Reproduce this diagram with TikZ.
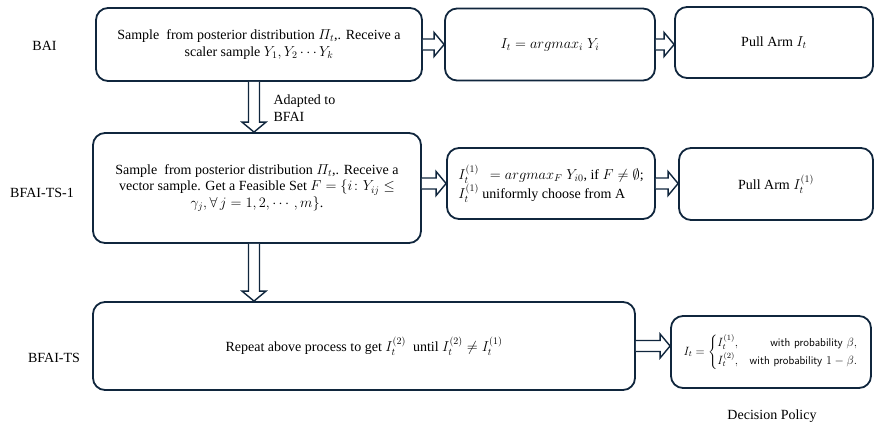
\documentclass[tikz,border=0pt]{standalone}
\usepackage{amsmath,amssymb}
\usepackage{fontspec}
\setmainfont{Liberation Serif}
\usepackage{tikz}
\usetikzlibrary{calc}
\definecolor{navy}{HTML}{10263D}

\begin{document}
\begin{tikzpicture}[x=1pt,y=-1pt,
  box/.style={draw=navy,line width=1.8pt,rounded corners=12pt,align=center,inner sep=0pt,
    font=\fontsize{14}{16.5}\selectfont},
  arrow/.style={draw=navy,line width=1.4pt,fill=white,line join=miter},
  lbl/.style={font=\fontsize{14}{16.5}\selectfont}]
  \useasboundingbox (0,0) rectangle (875,425);
  \def\barr#1#2{%
    \coordinate (s) at (#1); \coordinate (e) at (#2);
    \coordinate (h) at ($(e)!10pt!(s)$);
    \draw[arrow] ($(s)!5.5pt!90:(e)$) -- ($(h)!5.5pt!-90:(s)$) -- ($(h)!12pt!-90:(s)$) -- (e)
      -- ($(h)!12pt!90:(s)$) -- ($(h)!5.5pt!90:(s)$) -- ($(s)!5.5pt!-90:(e)$);}
  % row labels
  \node[lbl] (bai) at (44.5,46) {BAI};
  \node[lbl] (ts1) at (42,193) {BFAI-TS-1};
  \node[lbl] (ts) at (54,358) {BFAI-TS};
  % BAI
  \node[box,minimum width=326pt,minimum height=73pt] (smp) at (259,44.5)
    {Sample\ \ from posterior distribution $\varPi_t$,. Receive a\\ scaler sample $Y_1,Y_2\cdots Y_k$};
  \node[box,minimum width=210pt,minimum height=72pt] (amax) at (550,44.5)
    {$I_t = argmax_i\;Y_i$};
  \node[box,minimum width=198pt,minimum height=71pt] (pull) at (774,42.5) {Pull Arm $I_t$};
  % BFAI-TS-1
  \node[box,minimum width=328pt,minimum height=110pt] (vec) at (257,188)
    {Sample\ \ from posterior distribution $\varPi_t$,. Receive a\\
     vector sample. Get a Feasible Set $F=\{i\colon Y_{ij}\le$\\
     $\gamma_j,\forall\,j=1,2,\cdots,m\}$.};
  \node[box,minimum width=208pt,minimum height=71pt,align=left] (feas) at (551,183.5)
    {$I_t^{(1)}\ \ = argmax_F\;Y_{i0}$, if $F\neq\emptyset$;\\ $I_t^{(1)}$ uniformly choose from A};
  \node[box,minimum width=194pt,minimum height=72pt] (pull1) at (776,184) {Pull Arm $I_t^{(1)}$};
  % BFAI-TS
  \node[box,minimum width=542pt,minimum height=88pt] (rep) at (364,346)
    {Repeat above process to get $I_t^{(2)}$\ \ until $I_t^{(2)}\neq I_t^{(1)}$};
  \node[box,minimum width=200pt,minimum height=72pt,font=\fontsize{11.5}{14}\selectfont] (dec) at (771,352)
    {$I_t=\begin{cases}I_t^{(1)}, & \hfill\textsf{with probability } \beta,\\
      I_t^{(2)}, & \textsf{with probability } 1-\beta.\end{cases}$};
  \node[lbl] (pol) at (772,416) {Decision Policy};
  % connectors
  \coordinate (vx) at (254,0);
  \barr{smp.east}{amax.west}
  \barr{amax.east}{amax.east -| pull.west}
  \barr{vec.east |- feas.west}{feas.west}
  \barr{feas.east}{feas.east -| pull1.west}
  \barr{rep.east}{rep.east -| dec.west}
  \barr{vx |- smp.south}{vx |- vec.north}
  \barr{vx |- vec.south}{vx |- rep.north}
  \node[lbl,anchor=west,align=left] (adp) at (270,108) {Adapted to\\ BFAI};
\end{tikzpicture}
\end{document}
